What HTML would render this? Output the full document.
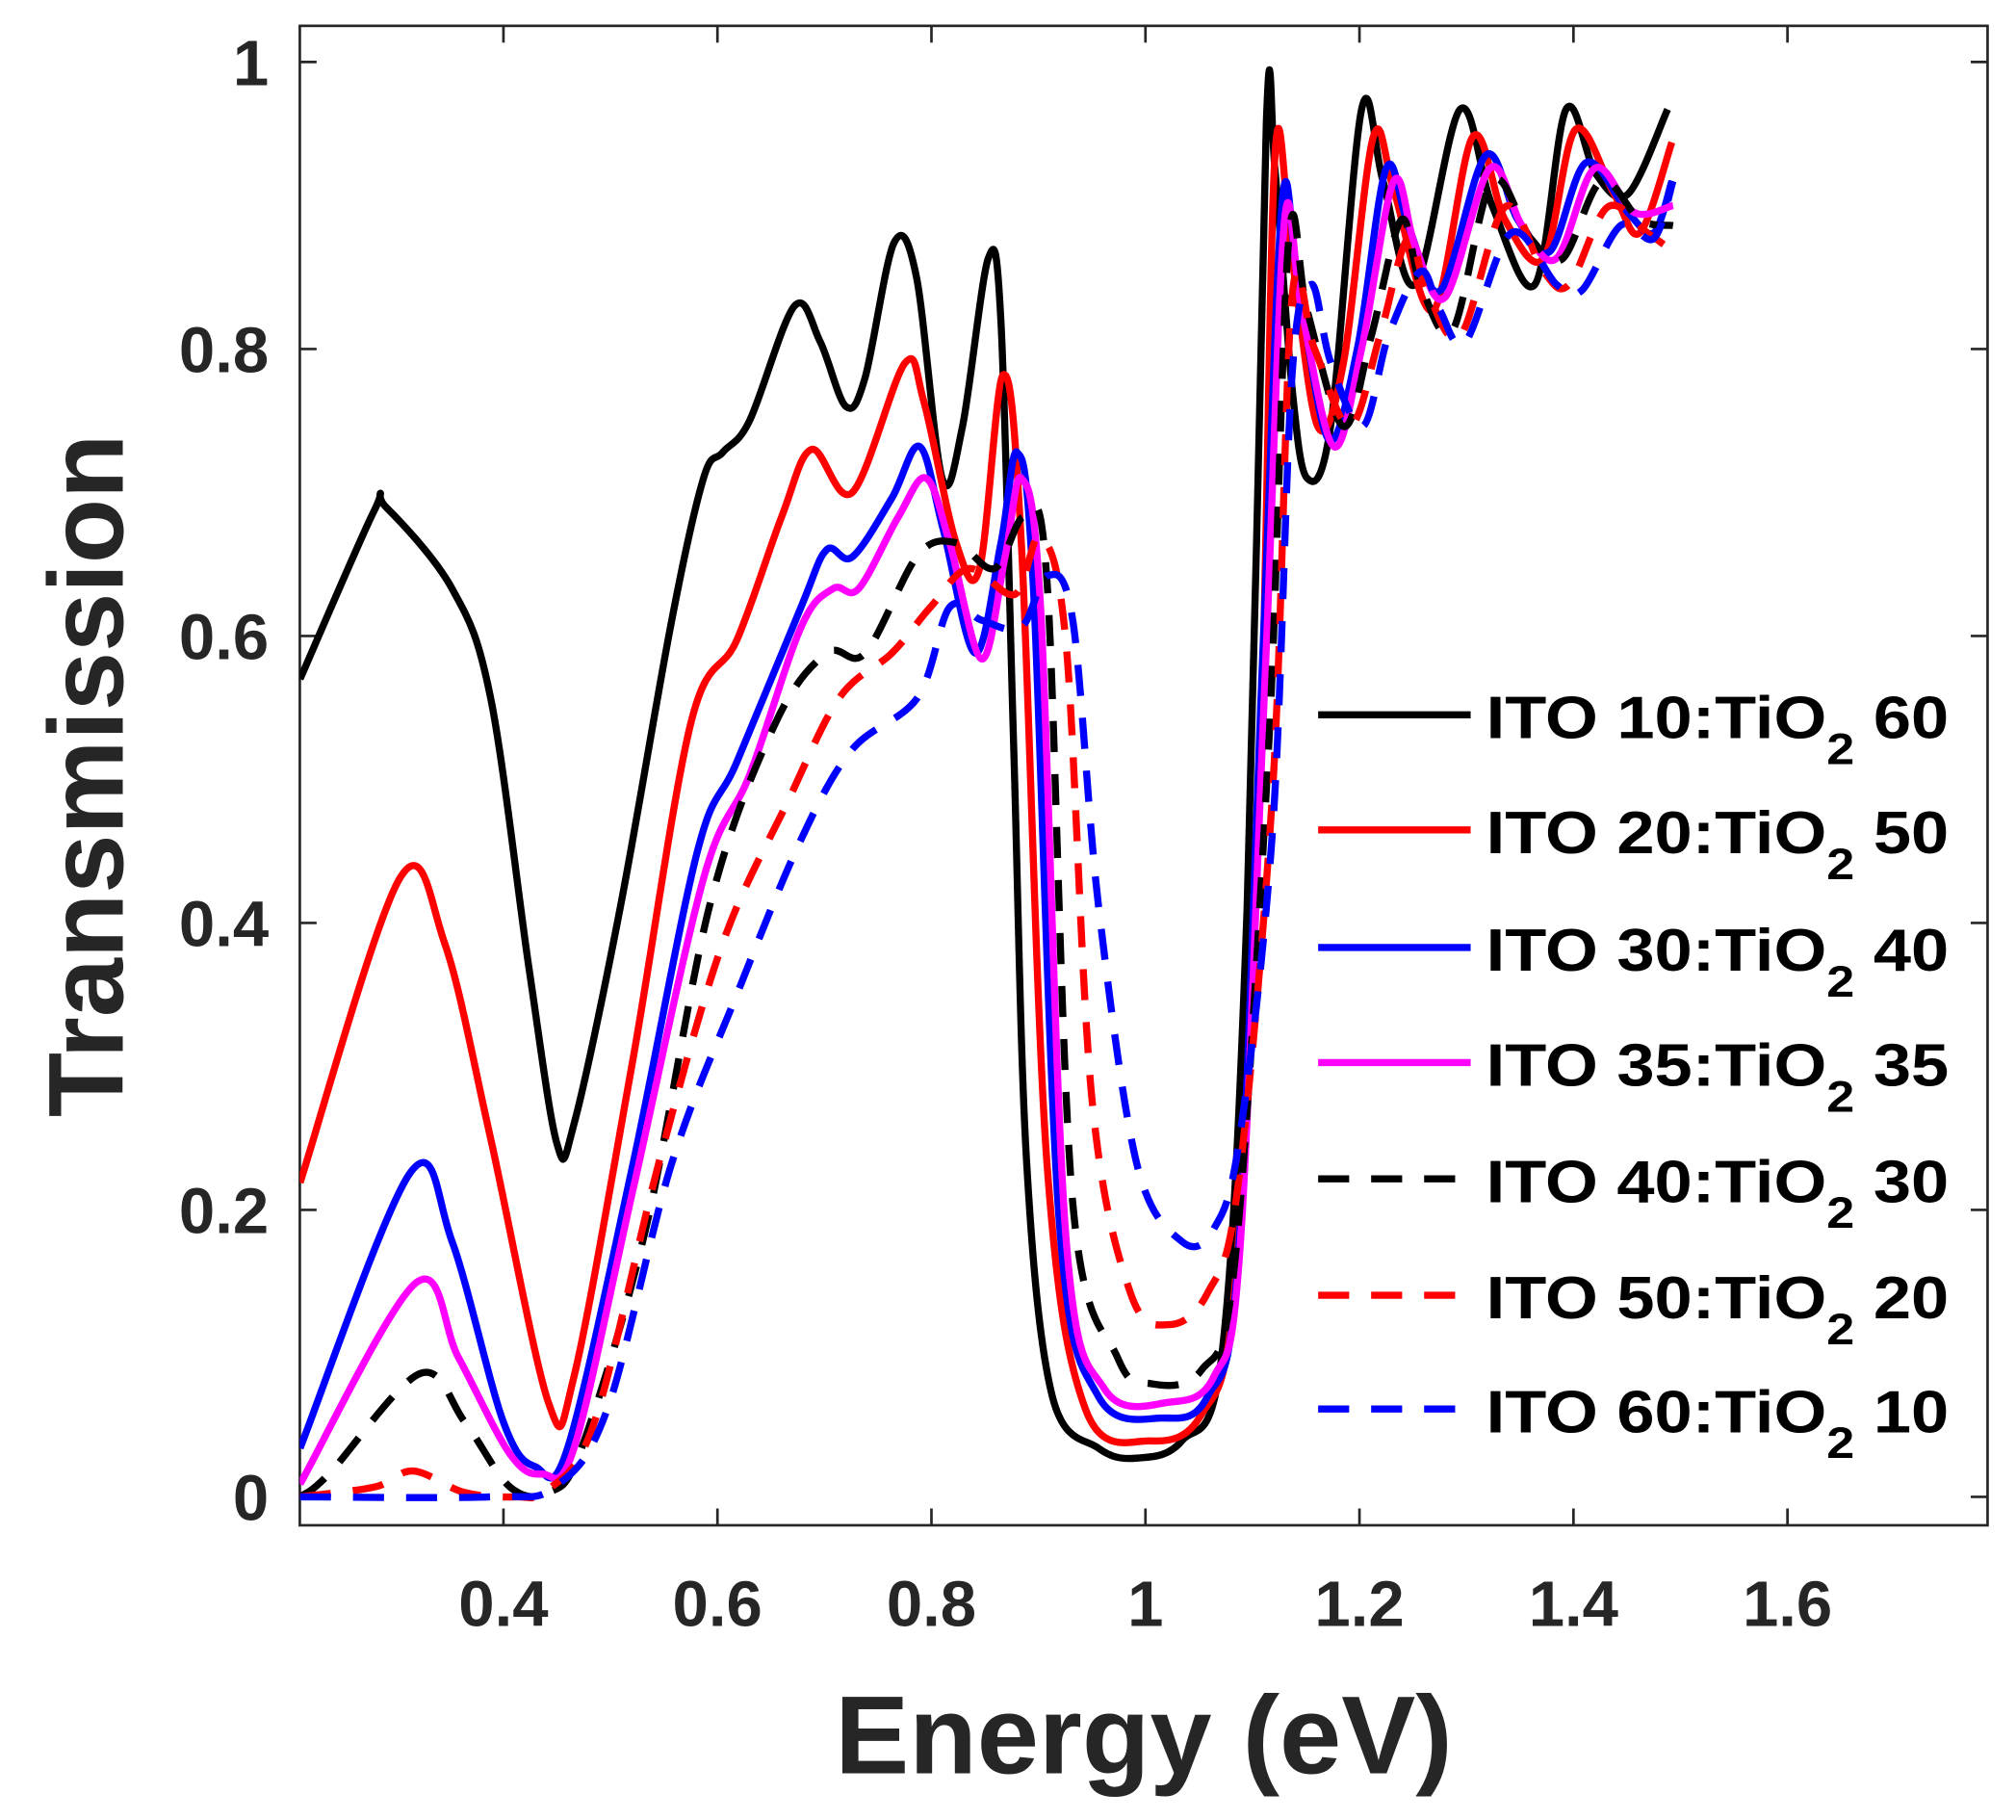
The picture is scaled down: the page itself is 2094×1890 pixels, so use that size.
<!DOCTYPE html>
<html><head><meta charset="utf-8"><style>
html,body{margin:0;padding:0;background:#fff;}
svg{display:block;}
text{font-family:"Liberation Sans",Arial,sans-serif;font-weight:bold;}
</style></head><body>
<svg id="chart" width="2094" height="1890" viewBox="0 0 1560 1408" preserveAspectRatio="none" xmlns="http://www.w3.org/2000/svg">
<defs><clipPath id="clip"><rect x="232" y="20" width="1306" height="1160"/></clipPath></defs>
<rect x="232" y="20" width="1306" height="1160" fill="#fff" stroke="#262626" stroke-width="2"/>
<g id="ticks"></g>
<g id="series" clip-path="url(#clip)"></g>
<text transform="translate(95,600) rotate(-90)" text-anchor="middle" font-size="82" fill="#262626">Transmission</text>
<text x="885" y="1372" text-anchor="middle" font-size="86" fill="#262626">Energy (eV)</text>
<g id="legend"></g>
</svg>
<script>
const xTicks=[0.4,0.6,0.8,1,1.2,1.4,1.6];
const xTickLabels=["0.4","0.6","0.8","1","1.2","1.4","1.6"];
const yTicks=[0,0.2,0.4,0.6,0.8,1];
const yTickLabels=["0","0.2","0.4","0.6","0.8","1"];
const seriesNames=["ITO 10","ITO 20","ITO 30","ITO 35","ITO 40","ITO 50","ITO 60"];
const tio2Values=["60","50","40","35","30","20","10"];
const seriesColors=["#000","#f00","#00f","#f0f","#000","#f00","#00f"];
const seriesDashed=[false,false,false,false,true,true,true];
const s1x=[0.21,0.279,0.29,0.352,0.388,0.424,0.45,0.466,0.509,0.557,0.587,0.605,0.63,0.672,0.696,0.72,0.738,0.765,0.786,0.81,0.829,0.853,0.865,0.877,0.889,0.913,0.956,0.992,1.034,1.071,1.095,1.113,1.121,1.137,1.151,1.173,1.202,1.222,1.252,1.294,1.324,1.364,1.393,1.421,1.451,1.488];
const s1y=[0.57,0.687,0.69,0.633,0.557,0.368,0.246,0.26,0.41,0.61,0.71,0.728,0.75,0.83,0.805,0.76,0.78,0.874,0.85,0.71,0.746,0.863,0.818,0.52,0.232,0.07,0.034,0.027,0.039,0.097,0.41,0.958,0.925,0.773,0.71,0.746,0.967,0.917,0.845,0.967,0.9,0.845,0.967,0.922,0.908,0.967];
const s2x=[0.21,0.303,0.345,0.388,0.442,0.466,0.521,0.575,0.618,0.66,0.688,0.726,0.775,0.793,0.823,0.845,0.867,0.884,0.908,0.944,1.004,1.052,1.083,1.107,1.121,1.137,1.161,1.185,1.213,1.233,1.269,1.306,1.336,1.372,1.402,1.438,1.462,1.492];
const s2y=[0.219,0.431,0.386,0.25,0.066,0.084,0.305,0.539,0.597,0.683,0.73,0.7,0.79,0.763,0.665,0.647,0.782,0.665,0.232,0.061,0.039,0.057,0.142,0.503,0.935,0.863,0.746,0.79,0.948,0.908,0.827,0.948,0.89,0.863,0.953,0.908,0.881,0.944];
const s3x=[0.21,0.313,0.352,0.4,0.43,0.46,0.521,0.581,0.618,0.678,0.702,0.726,0.763,0.789,0.811,0.841,0.865,0.88,0.895,0.92,0.956,1.016,1.058,1.086,1.11,1.128,1.143,1.171,1.198,1.225,1.246,1.276,1.318,1.348,1.378,1.412,1.451,1.475,1.492];
const s3y=[0.034,0.226,0.178,0.052,0.021,0.034,0.232,0.449,0.512,0.62,0.66,0.655,0.696,0.732,0.674,0.588,0.665,0.728,0.638,0.187,0.07,0.055,0.07,0.16,0.593,0.904,0.845,0.737,0.8,0.926,0.885,0.841,0.935,0.89,0.868,0.93,0.895,0.881,0.917];
const s4x=[0.21,0.318,0.358,0.406,0.436,0.466,0.521,0.587,0.63,0.678,0.708,0.732,0.769,0.795,0.817,0.847,0.869,0.884,0.902,0.926,0.962,1.022,1.064,1.088,1.112,1.13,1.146,1.176,1.202,1.232,1.252,1.28,1.322,1.352,1.384,1.42,1.457,1.493];
const s4y=[0.009,0.149,0.097,0.03,0.016,0.034,0.214,0.431,0.503,0.606,0.633,0.633,0.683,0.71,0.665,0.584,0.656,0.71,0.62,0.178,0.075,0.066,0.084,0.169,0.575,0.89,0.827,0.732,0.8,0.917,0.872,0.836,0.926,0.886,0.863,0.926,0.895,0.9];
const s5x=[0.21,0.237,0.322,0.364,0.406,0.442,0.473,0.533,0.593,0.654,0.702,0.738,0.787,0.823,0.859,0.887,0.908,0.932,0.974,1.004,1.052,1.083,1.115,1.134,1.151,1.185,1.211,1.239,1.257,1.287,1.324,1.36,1.39,1.426,1.462,1.493];
const s5y=[0.0,0.016,0.086,0.052,0.007,0.003,0.034,0.187,0.413,0.539,0.588,0.588,0.656,0.665,0.647,0.683,0.638,0.205,0.097,0.079,0.088,0.16,0.521,0.877,0.827,0.746,0.809,0.89,0.845,0.813,0.917,0.877,0.863,0.917,0.89,0.886];
const s6x=[0.21,0.28,0.316,0.364,0.412,0.442,0.485,0.545,0.605,0.666,0.714,0.763,0.799,0.835,0.878,0.902,0.926,0.95,0.986,1.022,1.058,1.086,1.119,1.137,1.158,1.191,1.219,1.245,1.263,1.294,1.336,1.372,1.396,1.432,1.469,1.493];
const s6y=[0.0,0.007,0.018,0.003,0.0,0.005,0.052,0.232,0.386,0.485,0.557,0.588,0.62,0.647,0.629,0.669,0.593,0.277,0.142,0.12,0.142,0.214,0.494,0.836,0.8,0.746,0.809,0.877,0.841,0.809,0.899,0.854,0.845,0.899,0.881,0.868];
const s7x=[0.21,0.388,0.448,0.497,0.557,0.618,0.678,0.726,0.787,0.817,0.847,0.884,0.908,0.932,0.956,0.992,1.034,1.064,1.088,1.119,1.137,1.155,1.173,1.203,1.227,1.257,1.275,1.299,1.342,1.384,1.408,1.444,1.475,1.493];
const s7y=[0.0,0.0,0.007,0.061,0.232,0.35,0.458,0.521,0.557,0.62,0.611,0.606,0.642,0.611,0.413,0.232,0.178,0.187,0.25,0.467,0.782,0.845,0.791,0.746,0.809,0.854,0.827,0.805,0.881,0.845,0.841,0.886,0.877,0.917];
const allX=[s1x,s2x,s3x,s4x,s5x,s6x,s7x];
const allY=[s1y,s2y,s3y,s4y,s5y,s6y,s7y];

const NS="http://www.w3.org/2000/svg";
const X0=232,X1=1538,Y0=1180,Y1=20;
const xmin=0.2097,xmax=1.7870,ymin=-0.0198,ymax=1.0252;
function sx(v){return X0+(v-xmin)/(xmax-xmin)*(X1-X0);}
function sy(v){return Y0-(v-ymin)/(ymax-ymin)*(Y0-Y1);}
function mk(tag,attrs,parent){const e=document.createElementNS(NS,tag);for(const k in attrs)e.setAttribute(k,attrs[k]);parent.appendChild(e);return e;}

const tg=document.getElementById('ticks');
xTicks.forEach((t,i)=>{
  const x=sx(t);
  let l=mk('line',{x1:x,x2:x,y1:Y0,y2:Y0-13,stroke:'#262626','stroke-width':2},tg);
  
  
  l=mk('line',{x1:x,x2:x,y1:Y1,y2:Y1+13,stroke:'#262626','stroke-width':2},tg);
  
  
  const tx=mk('text',{x:x,y:1258,'text-anchor':'middle','font-size':50,fill:'#262626'},tg);
  tx.textContent=xTickLabels[i];
  
  
});
yTicks.forEach((t,i)=>{
  const y=sy(t);
  let l=mk('line',{x1:X0,x2:X0+13,y1:y,y2:y,stroke:'#262626','stroke-width':2},tg);
  
  
  l=mk('line',{x1:X1,x2:X1-13,y1:y,y2:y,stroke:'#262626','stroke-width':2},tg);
  
  
  const tx=mk('text',{x:208,y:y+18,'text-anchor':'end','font-size':50,fill:'#262626'},tg);
  tx.textContent=yTickLabels[i];
  
  
});

function pathD(xs,ys){
  const p=xs.map((v,i)=>[sx(v),sy(ys[i])]);
  let d='M'+p[0][0].toFixed(1)+','+p[0][1].toFixed(1);
  for(let i=0;i<p.length-1;i++){
    const a=p[Math.max(i-1,0)],b=p[i],c=p[i+1],e=p[Math.min(i+2,p.length-1)];
    const c1=[b[0]+(c[0]-a[0])/6,b[1]+(c[1]-a[1])/6];
    const c2=[c[0]-(e[0]-b[0])/6,c[1]-(e[1]-b[1])/6];
    d+=' C'+c1[0].toFixed(1)+','+c1[1].toFixed(1)+' '+c2[0].toFixed(1)+','+c2[1].toFixed(1)+' '+c[0].toFixed(1)+','+c[1].toFixed(1);
  }
  return d;
}
const sg=document.getElementById('series');
const lg=document.getElementById('legend');
const legendRows=[553,642,733,822,912,1002,1090];
for(let k=0;k<7;k++){
  const attrs={d:pathD(allX[k],allY[k]),fill:'none',stroke:seriesColors[k],'stroke-width':5.5,'stroke-linejoin':'round'};
  if(seriesDashed[k])attrs['stroke-dasharray']='24 17';
  const p=mk('path',attrs,sg);
  
  
  const y=legendRows[k];
  const la={x1:1020,x2:1138,y1:y,y2:y,stroke:seriesColors[k],'stroke-width':5.5};
  if(seriesDashed[k])la['stroke-dasharray']='24 17';
  const ll=mk('line',la,lg);
  
  
  const t=mk('text',{x:1150,y:y+18,'font-size':46,fill:'#000',textLength:358,lengthAdjust:'spacingAndGlyphs'},lg);
  
  
  const a=mk('tspan',{},t);a.textContent=seriesNames[k]+':TiO';
  const b=mk('tspan',{dy:20,'font-size':34},t);b.textContent='2';
  const c=mk('tspan',{dy:-20},t);c.textContent=' '+tio2Values[k];
}
</script>
</body></html>
